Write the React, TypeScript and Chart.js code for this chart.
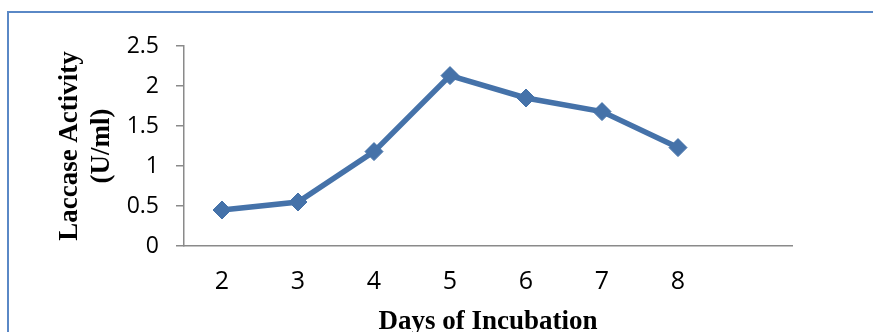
import React, { useEffect, useRef } from "react";
import { Chart, registerables } from "chart.js";

Chart.register(...registerables);

// Incubation days on the category axis; the trailing blank slot leaves room after day 8.
const days: string[] = ["2", "3", "4", "5", "6", "7", "8", ""];
// Laccase activity (U/ml) measured on each day.
const activity: number[] = [0.45, 0.55, 1.18, 2.13, 1.85, 1.68, 1.23];
// Values shown on the activity axis.
const activityTicks: number[] = [0, 0.5, 1, 1.5, 2, 2.5];

const AXIS_GREY = "#8a8a8a";
const SERIES_BLUE = "#4572a9";

export default function App() {
  const canvasRef = useRef<HTMLCanvasElement | null>(null);

  useEffect(() => {
    const canvas = canvasRef.current;
    if (!canvas) return;
    const chart = new Chart(canvas, {
      type: "line",
      data: {
        labels: days,
        datasets: [
          {
            data: activity,
            borderColor: SERIES_BLUE,
            backgroundColor: SERIES_BLUE,
            borderWidth: 5.5,
            pointStyle: "rectRot",
            pointRadius: 9,
            pointBorderWidth: 1,
            pointBorderColor: SERIES_BLUE,
            pointBackgroundColor: SERIES_BLUE,
            tension: 0,
            fill: false,
          },
        ],
      },
      options: {
        animation: false,
        responsive: false,
        maintainAspectRatio: false,
        layout: { padding: { left: 0, right: 81, top: 46, bottom: 0 } },
        plugins: {
          legend: { display: false },
          tooltip: { enabled: false },
        },
        scales: {
          x: {
            type: "category",
            offset: true,
            grid: { display: false, drawOnChartArea: false, drawTicks: false },
            border: { display: true, color: AXIS_GREY, width: 1.5 },
            ticks: {
              color: "#000",
              padding: 21,
              maxRotation: 0,
              autoSkip: false,
              font: { family: "'Open Sans', sans-serif", size: 25 },
            },
            title: {
              display: true,
              text: "Days of Incubation",
              color: "#000",
              padding: { top: 0, bottom: -4 },
              font: {
                family: "'Liberation Serif', 'Times New Roman', serif",
                size: 27,
                weight: "bold",
                lineHeight: 1,
              },
            },
            afterFit: (scale: any) => {
              scale.height = 86;
            },
          },
          y: {
            min: 0,
            max: 2.5,
            afterBuildTicks: (scale: any) => {
              scale.ticks = activityTicks.map((v) => ({ value: v }));
            },
            grid: {
              drawOnChartArea: false,
              drawTicks: true,
              tickLength: 8,
              color: AXIS_GREY,
              lineWidth: 1.5,
            },
            border: { display: true, color: AXIS_GREY, width: 1.5 },
            ticks: {
              color: "#000",
              padding: 17,
              font: { family: "'Open Sans', sans-serif", size: 23 },
              callback: (value: any) => String(Number(value)),
            },
            title: {
              display: true,
              text: ["Laccase Activity", "(U/ml)"],
              color: "#000",
              padding: { top: 55, bottom: 0 },
              font: {
                family: "'Liberation Serif', 'Times New Roman', serif",
                size: 27,
                weight: "bold",
                lineHeight: 1.15,
              },
            },
            afterFit: (scale: any) => {
              scale.width = 184;
            },
          },
        },
      },
    });
    return () => chart.destroy();
  }, []);

  return (
    <div
      style={{
        position: "fixed",
        left: 0,
        top: 0,
        width: 873,
        height: 332,
        background: "#fff",
        overflow: "hidden",
      }}
    >
      <div
        style={{
          position: "absolute",
          left: 7,
          top: 11,
          width: 1000,
          height: 1000,
          borderTop: "2px solid #5a88c6",
          borderLeft: "2px solid #5a88c6",
        }}
      />
      <canvas
        ref={canvasRef}
        width={873}
        height={332}
        style={{ position: "absolute", left: 0, top: 0, width: 873, height: 332 }}
      />
    </div>
  );
}
